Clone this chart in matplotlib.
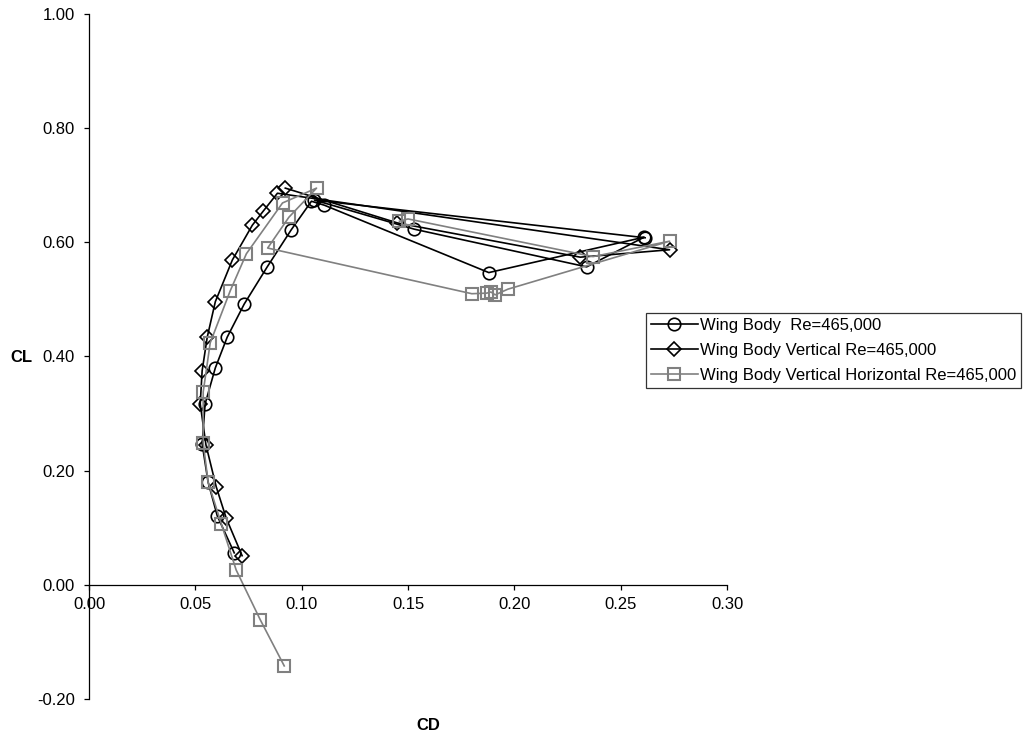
import matplotlib
matplotlib.use("Agg")
import matplotlib.pyplot as plt

plt.rcParams['font.family'] = ['Liberation Sans', 'DejaVu Sans']

# Wing Body
cd_wb = [0.0683, 0.0603, 0.0560, 0.0532, 0.0546, 0.0594, 0.0650, 0.0730, 0.0838, 0.0951,
         0.1046, 0.1107, 0.1880, 0.2610, 0.2340, 0.1530, 0.1060, 0.2615]
cl_wb = [0.056, 0.121, 0.180, 0.247, 0.317, 0.380, 0.434, 0.492, 0.557, 0.622,
         0.672, 0.665, 0.547, 0.609, 0.557, 0.623, 0.674, 0.608]

# Wing Body Vertical
cd_wbv = [0.0720, 0.0645, 0.0598, 0.0550, 0.0523, 0.0532, 0.0556, 0.0594, 0.0674, 0.0768,
          0.0820, 0.0886, 0.2730, 0.2310, 0.1450, 0.0923]
cl_wbv = [0.051, 0.117, 0.172, 0.245, 0.317, 0.375, 0.434, 0.496, 0.569, 0.630,
          0.655, 0.686, 0.587, 0.574, 0.634, 0.695]

# Wing Body Vertical Horizontal
cd_wbvh = [0.0918, 0.0805, 0.0692, 0.0622, 0.0560, 0.0537, 0.0537, 0.0570, 0.0664, 0.0740,
           0.0910, 0.1070, 0.0940, 0.0840, 0.1800, 0.1870, 0.1890, 0.1910, 0.1970, 0.2730,
           0.2370, 0.1500, 0.1460]
cl_wbvh = [-0.142, -0.061, 0.026, 0.107, 0.180, 0.249, 0.338, 0.424, 0.515, 0.580,
           0.669, 0.695, 0.644, 0.590, 0.510, 0.511, 0.513, 0.508, 0.518, 0.602,
           0.575, 0.641, 0.637]

x_ticks = [0.00, 0.05, 0.10, 0.15, 0.20, 0.25, 0.30]
y_ticks = [-0.20, 0.00, 0.20, 0.40, 0.60, 0.80, 1.00]

W, H = 1026, 742
FS = 12
fig = plt.figure(figsize=(W / 100, H / 100), dpi=100)
ax = fig.add_axes([89 / W, (H - 699) / H, (727 - 89) / W, (699 - 14) / H])

ax.plot(cd_wb, cl_wb, color='black', lw=1.2, marker='o', ms=9, mfc='none', mec='black',
        mew=1.2, label='Wing Body  Re=465,000')
ax.plot(cd_wbv, cl_wbv, color='black', lw=1.2, marker='D', ms=6.8, mfc='none', mec='black',
        mew=1.2, label='Wing Body Vertical Re=465,000')
ax.plot(cd_wbvh, cl_wbvh, color='#808080', lw=1.2, marker='s', ms=9, mfc='none', mec='#808080',
        mew=1.5, label='Wing Body Vertical Horizontal Re=465,000')

ax.set_xlim(0, 0.30)
ax.set_ylim(-0.20, 1.00)
ax.set_xticks(x_ticks)
ax.set_yticks(y_ticks)
ax.set_xticklabels([f'{v:.2f}' for v in x_ticks])
ax.set_yticklabels([f'{v:.2f}' for v in y_ticks])

for s in ['top', 'right']:
    ax.spines[s].set_visible(False)
ax.spines['bottom'].set_position(('data', 0))
ax.spines['left'].set_position(('data', 0))
ax.spines['bottom'].set_linewidth(0.9)
ax.spines['left'].set_linewidth(0.9)
ax.tick_params(direction='out', length=3.6, width=0.9, labelsize=FS, colors='black')
ax.tick_params(axis='y', pad=6.5)
ax.tick_params(axis='x', pad=5)
ax.set_facecolor('none')

fig.text(10 / W, 1 - 357 / H, 'CL', fontsize=FS, fontweight='bold', ha='left', va='center')
fig.text(428 / W, 1 - 725 / H, 'CD', fontsize=FS, fontweight='bold', ha='center', va='center')

leg = ax.legend(loc='upper left', bbox_to_anchor=(646 / W, 1 - 313 / H),
                bbox_transform=fig.transFigure, fontsize=FS, frameon=True, fancybox=False,
                edgecolor='black', borderaxespad=0, handlelength=2.8, handletextpad=0.12,
                labelspacing=0.6, borderpad=0.3)
leg.get_frame().set_linewidth(0.9)

fig.savefig('out.png', dpi=100)
